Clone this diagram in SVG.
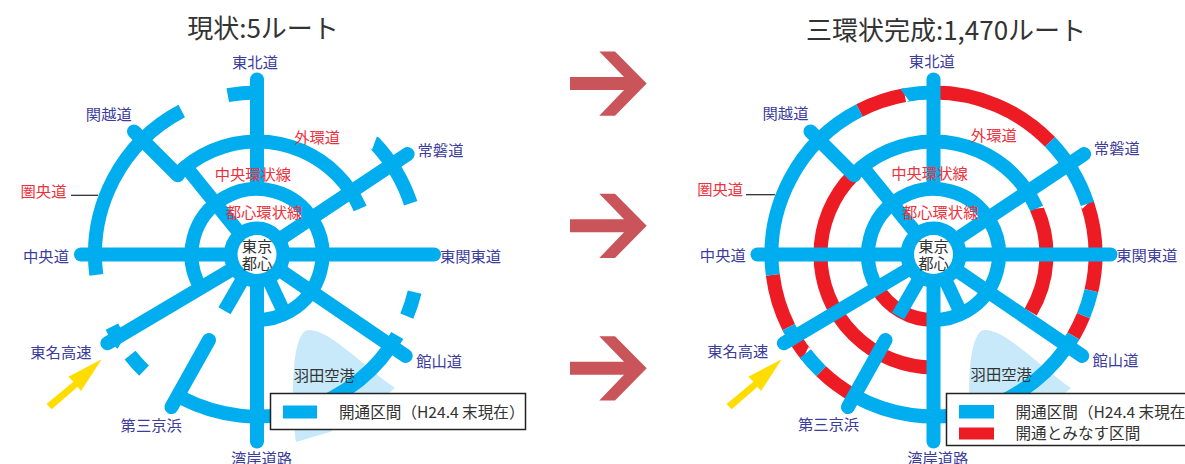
<svg xmlns="http://www.w3.org/2000/svg" width="1185" height="464" viewBox="0 0 1185 464">
<style>
text{font-family:"Noto Sans CJK JP","Noto Sans",sans-serif;text-anchor:middle;dominant-baseline:central;font-size:15.3px}
.t{font-size:26px;fill:#333}
.b{fill:#3c3c9c}
.r{fill:#ee2f3c}
.d{fill:#333}
.l{font-size:15.6px;fill:#333;text-anchor:start}
line,circle.a{fill:none;stroke-width:14}
.c{stroke:#00aeef}
.e{stroke:#ed1c24}
.rnd{stroke-linecap:round}
.leader{stroke:#222;stroke-width:1.2}
.box{fill:#fff;stroke:#222;stroke-width:1.5}
</style>
<defs>
<path id="arrow" fill="#c9555a" d="M570 -6.5H624L599.3 -32H615L646.7 0L615 32.3H599.3L624 6.5H570Z"/>
<path id="yellow" fill="#ffdd00" d="M101.7 359.3L81 391L77.6 386.7L51.7 409.3L46.5 404L73.4 381.7L68.3 376.7Z"/>
<path id="haneda" fill="#c8e9f9" d="M296 442C291 400 291 330 309 330C330 330 362 365 395 388L388 394L330 432Z"/>
<g id="spokes" class="c">
<line x1="0" y1="-175" x2="0" y2="-68" class="rnd"/>
<line x1="-176" y1="0" x2="177" y2="0" class="rnd"/>
<line x1="0" y1="0" x2="150.6" y2="-100.4" class="rnd"/>
<line x1="0" y1="0" x2="-149.6" y2="88.8" class="rnd"/>
<line x1="0" y1="0" x2="148.7" y2="101.4" class="rnd"/>
<line x1="0" y1="0" x2="0" y2="187" class="rnd"/>
<line x1="-123" y1="-123" x2="-79.2" y2="-79.2" class="rnd"/>
<line x1="-68.6" y1="-84.7" x2="0" y2="0"/>
<line x1="0" y1="0" x2="25.4" y2="54.4"/>
<line x1="-48" y1="85.5" x2="-85.6" y2="152.6" class="rnd"/>
</g>
</defs>

<text class="t" x="263" y="26">現状:5ルート</text>
<text class="t" x="946" y="28">三環状完成:1,470ルート</text>

<use href="#arrow" y="83.5"/>
<use href="#arrow" y="225.7"/>
<use href="#arrow" y="368.3"/>

<use href="#haneda"/>
<use href="#haneda" x="676"/>
<use href="#yellow"/>
<use href="#yellow" x="680"/>

<g id="connectors-left" transform="translate(257 254.5)">
<g class="c">
<circle class="a" r="162" pathLength="360" stroke-dasharray="69.5 290.5" transform="rotate(172.8)"/>
<circle class="a" r="162" pathLength="360" stroke-dasharray="10.4 349.6" transform="rotate(259.6)"/>
<circle class="a" r="162" pathLength="360" stroke-dasharray="25.1 334.9" transform="rotate(-43.5)"/>
<circle class="a" r="162" pathLength="360" stroke-dasharray="9 351" transform="rotate(13.4)"/>
<circle class="a" r="162" pathLength="360" stroke-dasharray="87 273" transform="rotate(30)"/>
<circle class="a" r="162" pathLength="360" stroke-dasharray="7.4 352.6" transform="rotate(134.2)"/>
<circle class="a" r="162" pathLength="360" stroke-dasharray="6.6 353.4" transform="rotate(147)"/>
<circle class="a" r="113" pathLength="360" stroke-dasharray="111 249" transform="rotate(225)"/>
<circle class="a" r="65.5" pathLength="360" stroke-dasharray="300 60" transform="rotate(150)"/>
<circle class="a" r="26"/>
</g>
<use href="#spokes"/>
<line class="c" x1="0" y1="0" x2="-32.5" y2="56.3"/>
</g>

<g id="connectors-right" transform="translate(933.5 254.5)">
<g class="e">
<circle class="a" r="162" pathLength="360" stroke-dasharray="17 343" transform="rotate(242.8)"/>
<circle class="a" r="162" pathLength="360" stroke-dasharray="46 314" transform="rotate(270)"/>
<circle class="a" r="162" pathLength="360" stroke-dasharray="31.1 328.9" transform="rotate(-18.2)"/>
<circle class="a" r="162" pathLength="360" stroke-dasharray="8 352" transform="rotate(22.2)"/>
<circle class="a" r="162" pathLength="360" stroke-dasharray="15 345" transform="rotate(118.9)"/>
<circle class="a" r="162" pathLength="360" stroke-dasharray="4.7 355.3" transform="rotate(142.3)"/>
<circle class="a" r="162" pathLength="360" stroke-dasharray="19.4 340.6" transform="rotate(153.4)"/>
<circle class="a" r="113" pathLength="360" stroke-dasharray="135 225" transform="rotate(90)"/>
<circle class="a" r="113" pathLength="360" stroke-dasharray="54.6 305.4" transform="rotate(-24)"/>
<circle class="a" r="65.5" pathLength="360" stroke-dasharray="60 300" transform="rotate(90)"/>
</g>
<g class="c">
<circle class="a" r="162" pathLength="360" stroke-dasharray="70 290" transform="rotate(172.8)"/>
<circle class="a" r="162" pathLength="360" stroke-dasharray="10.2 349.8" transform="rotate(259.8)"/>
<circle class="a" r="162" pathLength="360" stroke-dasharray="25.8 334.2" transform="rotate(-44)"/>
<circle class="a" r="162" pathLength="360" stroke-dasharray="9.3 350.7" transform="rotate(12.9)"/>
<circle class="a" r="162" pathLength="360" stroke-dasharray="89 271" transform="rotate(30.2)"/>
<circle class="a" r="162" pathLength="360" stroke-dasharray="8.4 351.6" transform="rotate(133.9)"/>
<circle class="a" r="162" pathLength="360" stroke-dasharray="6.4 353.6" transform="rotate(147)"/>
<circle class="a" r="113" pathLength="360" stroke-dasharray="111 249" transform="rotate(225)"/>
<circle class="a" r="65.5" pathLength="360" stroke-dasharray="300 60" transform="rotate(150)"/>
<circle class="a" r="26"/>
</g>
<use href="#spokes"/>
<line class="c" x1="0" y1="0" x2="-35.5" y2="61.5"/>
</g>

<line class="leader" x1="71" y1="195.3" x2="98" y2="195.3"/>
<line class="leader" x1="746" y1="194.7" x2="775" y2="194.7"/>

<g id="hub-left"><circle cx="257" cy="254.5" r="19.5" fill="#fff"/><text class="d" x="257" y="244.5">東京</text><text class="d" x="257" y="262">都心</text></g>
<g id="hub-right"><circle cx="933.5" cy="254.5" r="19.5" fill="#fff"/><text class="d" x="933.5" y="244.5">東京</text><text class="d" x="933.5" y="262">都心</text></g>

<g id="labels-left" transform="translate(-0.5 -1)">
<g id="l-tohoku"><text class="b" x="255.5" y="61.7">東北道</text></g>
<g id="l-kanetsu"><text class="b" x="109.3" y="114">関越道</text></g>
<g id="l-gaikan"><text class="r" x="317.6" y="136.7">外環道</text></g>
<g id="l-joban"><text class="b" x="441" y="149.7">常磐道</text></g>
<g id="l-chuo-kanjo"><text class="r" x="253.4" y="174">中央環状線</text></g>
<g id="l-toshin"><text class="r" x="264.5" y="212">都心環状線</text></g>
<g id="l-kenodo"><text class="r" x="44" y="190.7">圏央道</text></g>
<g id="l-chuo"><text class="b" x="46.5" y="256">中央道</text></g>
<g id="l-higashikanto"><text class="b" x="471" y="256">東関東道</text></g>
<g id="l-tomei"><text class="b" x="61.4" y="352">東名高速</text></g>
<g id="l-tateyama"><text class="b" x="439.6" y="361">館山道</text></g>
<g id="l-daisan"><text class="b" x="151.7" y="425">第三京浜</text></g>
<g id="l-wangan"><text class="b" x="262" y="458">湾岸道路</text></g>
<g id="l-haneda"><text class="d" x="324.8" y="374.7">羽田空港</text></g>
</g>

<g id="labels-right" transform="translate(-0.5 -1)">
<g id="r-tohoku"><text class="b" x="932.3" y="60.7">東北道</text></g>
<g id="r-kanetsu"><text class="b" x="786" y="112.7">関越道</text></g>
<g id="r-gaikan"><text class="r" x="994.3" y="135.3">外環道</text></g>
<g id="r-joban"><text class="b" x="1117.3" y="148.3">常磐道</text></g>
<g id="r-chuo-kanjo"><text class="r" x="930" y="173.3">中央環状線</text></g>
<g id="r-toshin"><text class="r" x="940.7" y="212">都心環状線</text></g>
<g id="r-kenodo"><text class="r" x="720.7" y="189.3">圏央道</text></g>
<g id="r-chuo"><text class="b" x="723.3" y="255">中央道</text></g>
<g id="r-higashikanto"><text class="b" x="1147.3" y="255">東関東道</text></g>
<g id="r-tomei"><text class="b" x="738.3" y="351">東名高速</text></g>
<g id="r-tateyama"><text class="b" x="1116" y="360">館山道</text></g>
<g id="r-daisan"><text class="b" x="829" y="424">第三京浜</text></g>
<g id="r-wangan"><text class="b" x="938.3" y="457.7">湾岸道路</text></g>
<g id="r-haneda"><text class="d" x="1001.7" y="374">羽田空港</text></g>
</g>

<g id="legend-left">
<rect class="box" x="270.5" y="393.5" width="255" height="36"/>
<rect x="283" y="405.5" width="34" height="13" fill="#00aeef"/>
<text class="l" x="339" y="410.5">開通区間（H24.4 末現在）</text>
</g>
<g id="legend-right">
<rect class="box" x="946.5" y="393.5" width="250" height="52"/>
<rect x="959" y="405" width="35" height="13.5" fill="#00aeef"/>
<rect x="959" y="427.5" width="35" height="12" fill="#ed1c24"/>
<text class="l" x="1015.5" y="410.5">開通区間（H24.4 末現在）</text>
<text class="l" x="1015.5" y="431.5">開通とみなす区間</text>
</g>
</svg>
